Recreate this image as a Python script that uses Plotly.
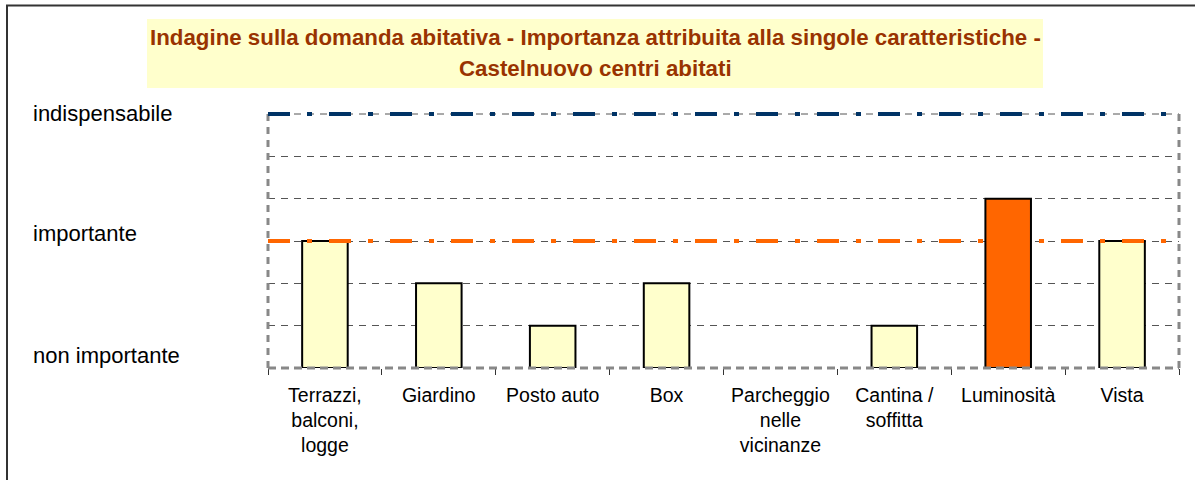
import plotly.graph_objects as go

# Characteristics and their rated importance (0 = non importante, 6 = indispensabile)
categories = [
    "Terrazzi,<br>balconi,<br>logge",
    "Giardino",
    "Posto auto",
    "Box",
    "Parcheggio<br>nelle<br>vicinanze",
    "Cantina /<br>soffitta",
    "Luminosità",
    "Vista",
]
importance = [3, 2, 1, 2, 0, 1, 4, 3]
highlighted = [False, False, False, False, False, False, True, False]

# Reference levels drawn as dash-dot lines
level_important = 3
level_indispensable = 6
y_max = 6

scale_labels = ["indispensabile", "importante", "non importante"]

title_lines = [
    "Indagine sulla domanda abitativa - Importanza attribuita alla singole caratteristiche -",
    "Castelnuovo centri abitati",
]

FONT = "Arial, Liberation Sans, sans-serif"
W, H = 1195, 480
L, R, T, B = 268, 16, 114, 112
PW, PH = W - L - R, H - T - B


def px_x(x):
    return (x - L) / PW


def px_y(y):
    return (H - B - y) / PH


bar_colors = ["#FF6600" if h else "#FFFFCC" for h in highlighted]
# no outline on empty bars so nothing shows on the baseline
bar_outline = [2 if v > 0 else 0 for v in importance]

fig = go.Figure()
fig.add_trace(go.Bar(
    x=categories,
    y=importance,
    marker=dict(color=bar_colors, line=dict(color="#000000", width=bar_outline)),
    hoverinfo="x+y",
))

shapes = []
# outer chart frame (left and top edges)
shapes.append(dict(type="line", xref="paper", yref="paper",
                   x0=px_x(7), x1=px_x(7), y0=px_y(485), y1=px_y(5.5),
                   line=dict(color="#333333", width=2)))
shapes.append(dict(type="line", xref="paper", yref="paper",
                   x0=px_x(6), x1=px_x(1200), y0=px_y(5.5), y1=px_y(5.5),
                   line=dict(color="#333333", width=2)))
# title box
shapes.append(dict(type="rect", xref="paper", yref="paper",
                   x0=px_x(147), x1=px_x(1043), y0=px_y(88), y1=px_y(19),
                   fillcolor="#FFFFCC", line=dict(width=0), layer="below"))
# plot area frame
shapes.append(dict(type="line", xref="paper", yref="paper", x0=0, x1=1, y0=1, y1=1,
                   line=dict(color="#555555", width=1, dash="7px,6px")))
shapes.append(dict(type="line", xref="paper", yref="paper", x0=0, x1=0, y0=0, y1=1,
                   line=dict(color="#888888", width=3, dash="7px,6px")))
shapes.append(dict(type="line", xref="paper", yref="paper", x0=1, x1=1, y0=0, y1=1,
                   line=dict(color="#888888", width=3, dash="7px,6px")))
shapes.append(dict(type="line", xref="paper", yref="paper", x0=0, x1=1, y0=0, y1=0,
                   line=dict(color="#888888", width=3, dash="8px,5px")))
# reference levels (paper-referenced so the top one is not clipped)
for lvl, col in [(level_important, "#FF6600"), (level_indispensable, "#003366")]:
    shapes.append(dict(type="line", xref="paper", yref="paper",
                       x0=0, x1=px_x(1166), y0=lvl / y_max, y1=lvl / y_max,
                       line=dict(color=col, width=4, dash="22px,17px,5px,17px")))

annotations = []
for i, line in enumerate(title_lines):
    annotations.append(dict(
        text=f"<b>{line}</b>", xref="paper", yref="paper",
        x=px_x(595), y=px_y(37 + 31 * i), xanchor="center", yanchor="middle",
        showarrow=False, font=dict(family=FONT, size=22.3, color="#993300"),
    ))
for label, ypix in zip(scale_labels, [113, 233, 355]):
    annotations.append(dict(
        text=label, xref="paper", yref="paper",
        x=px_x(31), y=px_y(ypix), xanchor="left", yanchor="middle",
        showarrow=False, font=dict(family=FONT, size=22, color="#000000"),
    ))

fig.update_layout(
    width=W, height=H,
    margin=dict(l=L, r=R, t=T, b=B, pad=0),
    paper_bgcolor="#FFFFFF", plot_bgcolor="#FFFFFF",
    showlegend=False,
    bargap=0.6,
    font=dict(family=FONT, color="#000000"),
    shapes=shapes,
    annotations=annotations,
    xaxis=dict(
        type="category", tickson="boundaries", ticks="outside",
        ticklen=6, tickwidth=1, tickcolor="#333333",
        ticklabelstandoff=13,
        showgrid=False, showline=False, zeroline=False,
        tickfont=dict(family=FONT, size=19.5, color="#000000"),
        range=[-0.5, len(categories) - 0.5],
    ),
    yaxis=dict(
        range=[0, y_max], dtick=1, showticklabels=False,
        showgrid=True, gridcolor="#555555", gridwidth=1, griddash="7px,6px",
        zeroline=False, showline=False, ticks="",
    ),
)

fig.write_html("out.html")
